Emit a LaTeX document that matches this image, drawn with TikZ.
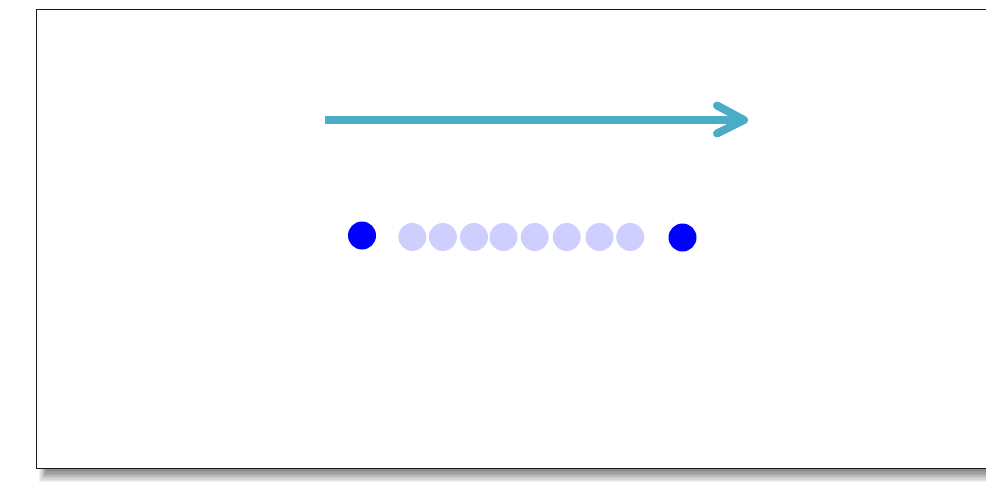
\documentclass[tikz,border=0pt]{standalone}
\definecolor{teal1}{HTML}{4BACC6}
\definecolor{pale}{HTML}{CFCFFF}
\tikzset{
  bdot/.style={circle,fill=blue,draw=none,minimum size=28pt,inner sep=0pt},
  ldot/.style={circle,fill=pale,draw=none,minimum size=28pt,inner sep=0pt},
  arrowline/.style={draw=teal1,line width=8pt},
  arrowtip/.style={draw=teal1,line width=8pt,line cap=round,line join=round},
  frame/.style={draw=black!90,line width=1pt,fill=white}
}
\begin{document}
\begin{tikzpicture}[x=1pt,y=-1pt]
\useasboundingbox (0,0) rectangle (986,485);
\fill[white] (0,0) rectangle (986,485);
% shadow
\foreach \i in {0,...,9}{
  \fill[black,opacity=0.055] (39+\i*0.9,14+\i*0.8) rectangle (1000,482-\i*1.2);
}
\path[frame] (36,9.5) rectangle (995,468);
% arrow
\coordinate (a) at (325,120);
\coordinate (b) at (744,120);
\coordinate (u) at (717,105.5);
\coordinate (l) at (717,133.5);
\draw[arrowline] (a) -- (b);
\draw[arrowtip] (u) -- (b) -- (l);
% dots
\node[bdot] (d0) at (362,235.5) {};
\foreach \x [count=\k] in {412.3,442.9,474,503.5,534.7,566.7,599.5,630.2}{
  \node[ldot] (l\k) at (\x,237) {};
}
\node[bdot] (d9) at (682.5,237.5) {};
\end{tikzpicture}
\end{document}
